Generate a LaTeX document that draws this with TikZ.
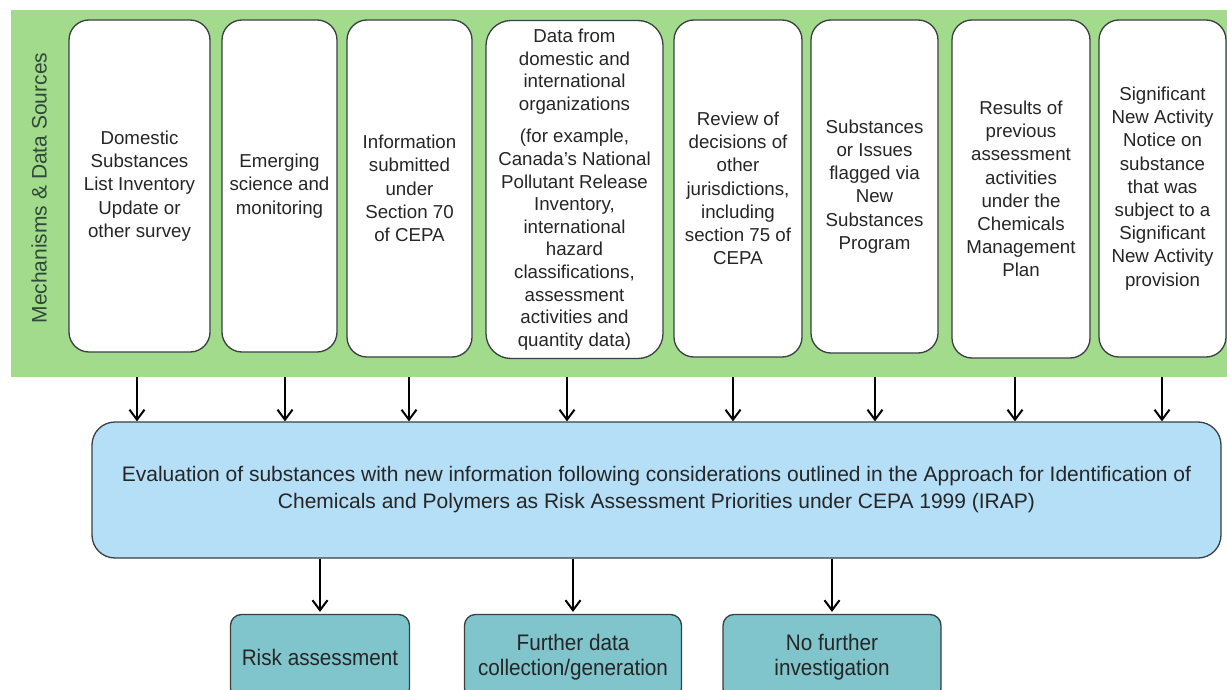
\documentclass[tikz,border=0pt]{standalone}
\usepackage{fontspec}
\setmainfont{Liberation Sans}
\newfontfamily\condfont[FakeStretch=0.92]{Liberation Sans}
\usetikzlibrary{arrows.meta,calc}

\definecolor{bandgreen}{HTML}{A3DB8D}
\definecolor{evalblue}{HTML}{B5DEF7}
\definecolor{outcometeal}{HTML}{80C4CC}
\definecolor{boxline}{HTML}{3A3F42}
\definecolor{txt}{HTML}{262626}
\definecolor{labelgreen}{HTML}{2E4A36}

\begin{document}
\begin{tikzpicture}[x=1pt,y=-1pt,
  srcbox/.style={draw=boxline, line width=1.3pt, fill=white, rounded corners=20pt,
    inner sep=0pt, align=center, text=txt, minimum height=332pt,
    font=\fontsize{18.7}{23.2}\selectfont},
  evalbox/.style={draw=boxline, line width=1.3pt, fill=evalblue, rounded corners=23pt,
    inner sep=0pt, align=center, text=txt, minimum width=1129pt, minimum height=136pt,
    font=\fontsize{21}{27}\selectfont},
  outbox/.style={draw=boxline, line width=1.3pt, fill=outcometeal, rounded corners=11pt,
    inner sep=0pt, align=center, text=txt, minimum height=85pt,
    font=\condfont\fontsize{22.5}{25}\selectfont},
  arr/.style={line width=2pt, -{Straight Barb[length=10pt,width=15pt]}}
]
\useasboundingbox (0,0) rectangle (1227,690);

% green band holding the data sources
\node[fill=bandgreen, inner sep=0pt, minimum width=1216pt, minimum height=367pt]
  (band) at (619,193.5) {};
\node[rotate=90, text=labelgreen, font=\fontsize{21}{24}\selectfont]
  (lbl) at (39,188) {Mechanisms \& Data Sources};

% source boxes
\node[srcbox, minimum width=141pt] (b1) at (139.5,186)
  {Domestic\\Substances\\List Inventory\\Update or\\other survey};
\node[srcbox, minimum width=115pt] (b2) at (279.5,186)
  {Emerging\\science and\\monitoring};
\node[srcbox, minimum width=125pt, minimum height=337pt] (b3) at (409.5,188.5)
  {Information\\submitted\\under\\Section 70\\of CEPA};
\node[srcbox, minimum width=177pt, minimum height=338pt, rounded corners=25pt,
  font=\fontsize{18.7}{22.6}\selectfont] (b4) at (574.5,189.5)
  {Data from\\domestic and\\international\\organizations\\[10pt](for example,\\Canada's National\\Pollutant Release\\Inventory,\\international\\hazard\\classifications,\\assessment\\activities and\\quantity data)};
\node[srcbox, minimum width=128pt, minimum height=337pt] (b5) at (738,188.5)
  {Review of\\decisions of\\other\\jurisdictions,\\including\\section 75 of\\CEPA};
\node[srcbox, minimum width=127pt, minimum height=333pt] (b6) at (874.5,186.5)
  {Substances\\or Issues\\flagged via\\New\\Substances\\Program};
\node[srcbox, minimum width=138pt, minimum height=338pt] (b7) at (1021,189)
  {Results of\\previous\\assessment\\activities\\under the\\Chemicals\\Management\\Plan};
\node[srcbox, minimum width=127pt, minimum height=337pt] (b8) at (1162.5,188.5)
  {Significant\\New Activity\\Notice on\\substance\\that was\\subject to a\\Significant\\New Activity\\provision};

% evaluation step
\node[evalbox] (eval) at (656.5,490)
  {Evaluation of substances with new information following considerations outlined in the Approach for Identification of\\Chemicals and Polymers as Risk Assessment Priorities under CEPA 1999 (IRAP)};

% outcomes
\node[outbox, minimum width=179pt] (risk) at (320,657) {Risk assessment};
\node[outbox, minimum width=217pt] (more) at (573,657) {Further data\\collection/generation};
\node[outbox, minimum width=218pt] (none) at (832,657) {No further\\investigation};

% sources feed the evaluation
\foreach \b/\dx in {b1/-2.5, b2/5.5, b3/-0.5, b4/-7.5, b5/-5, b6/0.5, b7/-6, b8/-0.5}
  \draw[arr] ($(\b.south |- band.south)+(\dx,0)$) -- ($(\b.south |- eval.north)+(\dx,0)$);

% evaluation leads to the outcomes
\foreach \o in {risk, more, none}
  \draw[arr] (\o.north |- eval.south) -- ($(\o.north)+(0,-2)$);
\end{tikzpicture}
\end{document}
